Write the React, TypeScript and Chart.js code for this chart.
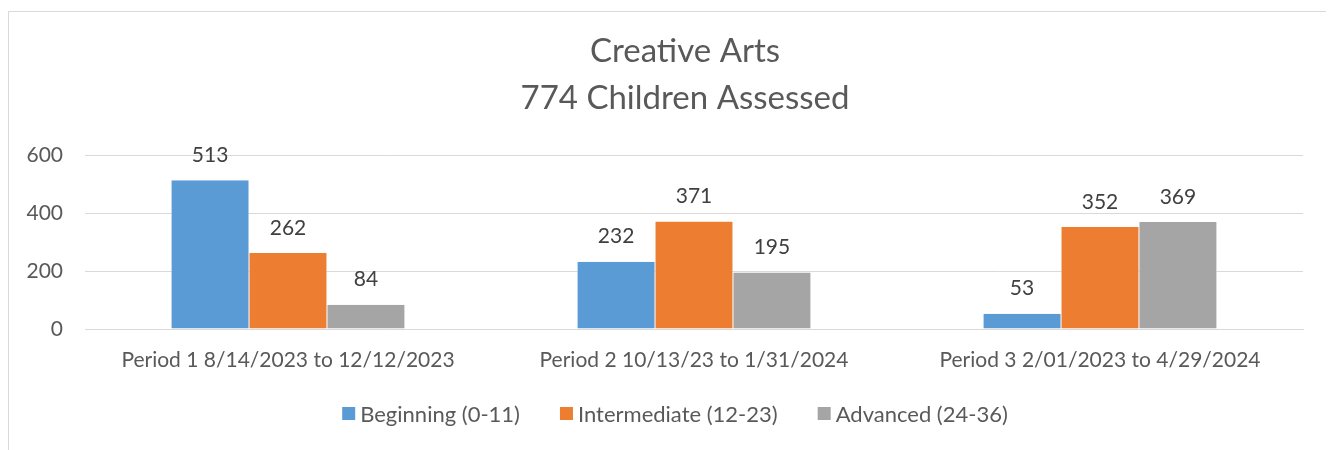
import React, { useEffect, useRef } from "react";
import { Chart, registerables } from "chart.js";

Chart.register(...registerables);

const titleLines = ["Creative Arts", "774 Children Assessed"];
const categories = [
  "Period 1 8/14/2023 to 12/12/2023",
  "Period 2 10/13/23 to 1/31/2024",
  "Period 3 2/01/2023 to 4/29/2024",
];
const seriesNames = ["Beginning (0-11)", "Intermediate (12-23)", "Advanced (24-36)"];
const beginning = [513, 232, 53];
const intermediate = [262, 371, 352];
const advanced = [84, 195, 369];
const seriesColors = ["#5b9bd5", "#ed7d31", "#a5a5a5"];
const yTicks = [0, 200, 400, 600];

const FONT = "Lato, 'Open Sans', sans-serif";

const dataLabelPlugin = {
  id: "dataLabels",
  afterDatasetsDraw(chart: any) {
    const ctx = chart.ctx;
    ctx.save();
    ctx.font = `21px ${FONT}`;
    ctx.fillStyle = "#404040";
    ctx.textAlign = "center";
    ctx.textBaseline = "middle";
    chart.data.datasets.forEach((ds: any, i: number) => {
      const meta = chart.getDatasetMeta(i);
      meta.data.forEach((el: any, j: number) => {
        ctx.fillText(String(ds.data[j]), el.x, el.y - 25);
      });
    });
    ctx.restore();
  },
};

const titleLegendPlugin = {
  id: "titleLegend",
  afterDraw(chart: any) {
    const ctx = chart.ctx;
    ctx.save();
    // title
    ctx.font = `33px ${FONT}`;
    ctx.fillStyle = "#595959";
    ctx.textAlign = "center";
    ctx.textBaseline = "middle";
    titleLines.forEach((line, i) => {
      ctx.fillText(line, 676, 39 + i * 47);
    });
    // legend
    ctx.font = `22px ${FONT}`;
    ctx.textAlign = "left";
    const box = 13;
    const gapText = 5;
    const gapItem = 40;
    const widths = seriesNames.map((n) => ctx.measureText(n).width);
    const total =
      widths.reduce((a, w) => a + box + gapText + w, 0) + gapItem * (seriesNames.length - 1);
    let x = 666 - total / 2;
    const cy = 401.5;
    seriesNames.forEach((name, i) => {
      ctx.fillStyle = seriesColors[i];
      ctx.fillRect(x, cy - box / 2, box, box);
      ctx.fillStyle = "#595959";
      ctx.fillText(name, x + box + gapText, cy + 1);
      x += box + gapText + widths[i] + gapItem;
    });
    ctx.restore();
  },
};

export default function App() {
  const ref = useRef<HTMLCanvasElement | null>(null);
  useEffect(() => {
    if (!ref.current) return;
    const values = [beginning, intermediate, advanced];
    const chart = new Chart(ref.current, {
      type: "bar",
      data: {
        labels: categories,
        datasets: seriesNames.map((name, i) => ({
          label: name,
          data: values[i],
          backgroundColor: seriesColors[i],
          borderColor: "#ffffff",
          borderWidth: { left: 0.5, right: 0.5, top: 0, bottom: 0 },
          categoryPercentage: 0.576,
          barPercentage: 1,
        })),
      },
      options: {
        responsive: false,
        animation: false,
        layout: { padding: { left: 0, right: 29, top: 143, bottom: 65 } },
        scales: {
          x: {
            grid: { display: false, drawTicks: false },
            border: { display: true, color: "#d9d9d9" },
            ticks: { color: "#595959", font: { family: FONT, size: 21 }, padding: 19, maxRotation: 0 },
            afterFit(scale: any) {
              scale.height = 63;
            },
          },
          y: {
            min: 0,
            max: 600,
            afterBuildTicks(scale: any) {
              scale.ticks = yTicks.map((v) => ({ value: v }));
            },
            grid: { color: "#d9d9d9", drawTicks: false },
            border: { display: false },
            ticks: { color: "#595959", font: { family: FONT, size: 21 }, padding: 22 },
            afterFit(scale: any) {
              scale.width = 76;
            },
          },
        },
        plugins: {
          title: { display: false },
          legend: { display: false },
          tooltip: { enabled: false },
        },
      },
      plugins: [dataLabelPlugin, titleLegendPlugin],
    });
    return () => chart.destroy();
  }, []);
  return (
    <div
      style={{
        marginTop: 3,
        width: 1323,
        height: 450,
        border: "1px solid #d9d9d9",
        background: "#fff",
      }}
    >
      <canvas ref={ref} width={1323} height={445} style={{ display: "block" }} />
    </div>
  );
}
